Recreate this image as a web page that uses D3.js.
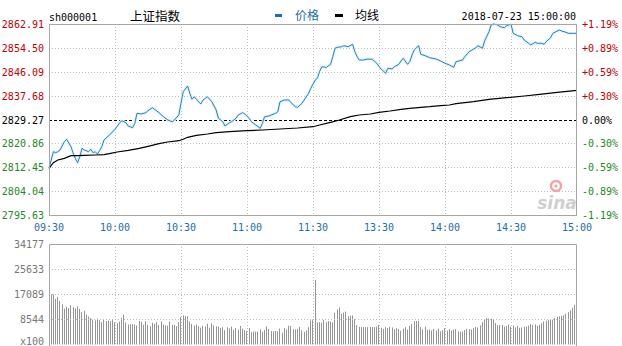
<!DOCTYPE html>
<html><head><meta charset="utf-8">
<script src="https://cdn.jsdelivr.net/npm/d3@7"></script>
<style>body{margin:0;background:#fff}svg{display:block}</style></head>
<body><svg id="c" width="622" height="346"></svg>
<script>
const priceTicks = [2862.91, 2854.50, 2846.09, 2837.68, 2829.27, 2820.86, 2812.45, 2804.04, 2795.63];
const pctTicks = ["+1.19%", "+0.89%", "+0.59%", "+0.30%", "0.00%", "-0.30%", "-0.59%", "-0.89%", "-1.19%"];
const prevClose = 2829.27;
const timeLabels = ["09:30", "10:00", "10:30", "11:00", "11:30", "13:30", "14:00", "14:30", "15:00"];
const timeLabelMinutes = [0, 30, 60, 90, 120, 150, 180, 210, 240];
const volTicks = [34177, 25633, 17089, 8544];

const priceMinutes = [0,2,3,4,5,7,8,10,11,12,13,14,15,16,18,19,20,21,22,23,24,25,28,30,32,33,35,36,38,39,40,42,44,45,47,48,50,52,54,56,57,59,60,61,63,64,65,66,67,69,70,72,74,76,77,79,80,82,83,85,86,88,89,91,92,94,96,97,98,100,101,103,104,105,107,109,110,112,113,115,116,118,119,121,122,123,124,126,128,129,130,131,133,134,136,138,139,140,141,143,145,147,149,150,151,152,153,154,156,157,159,160,161,163,164,165,166,168,169,171,173,176,178,180,182,184,185,188,189,191,194,195,197,198,200,201,202,204,205,207,208,210,211,213,215,216,218,219,221,222,224,225,226,228,229,232,233,235,236,238,240];
const priceValues = [2812.08,2817.93,2817.58,2817.93,2818.53,2821.45,2822.30,2819.69,2817.36,2815.50,2814.05,2816.17,2819.12,2818.53,2817.93,2818.77,2817.58,2817.93,2817.12,2818.28,2819.69,2822.05,2824.16,2825.82,2827.93,2828.85,2828.14,2826.98,2826.38,2827.93,2831.45,2831.21,2831.67,2832.37,2833.43,2832.86,2831.67,2830.26,2829.09,2828.49,2829.09,2830.86,2834.98,2839.06,2841.07,2838.50,2836.39,2837.30,2836.39,2834.73,2836.14,2837.30,2835.54,2832.62,2829.69,2828.49,2826.98,2828.14,2828.49,2829.69,2830.86,2831.67,2831.21,2829.69,2828.49,2827.33,2826.17,2827.93,2830.26,2830.50,2830.86,2831.45,2832.02,2835.54,2836.14,2836.14,2835.19,2833.78,2833.57,2834.98,2836.14,2838.50,2840.26,2843.18,2843.78,2846.20,2847.87,2847.60,2848.71,2851.39,2854.35,2854.70,2854.91,2855.27,2854.91,2855.76,2853.20,2851.50,2850.23,2850.23,2850.58,2850.46,2849.07,2848.00,2847.00,2846.35,2845.54,2847.31,2847.06,2847.87,2848.71,2849.88,2850.83,2848.71,2849.63,2851.99,2853.75,2855.27,2852.24,2851.74,2851.04,2850.58,2849.88,2849.07,2848.47,2847.66,2849.63,2850.23,2851.39,2853.15,2854.56,2855.27,2854.35,2856.92,2860.20,2862.56,2862.91,2862.56,2861.96,2861.61,2862.31,2862.80,2859.63,2858.79,2858.44,2857.27,2856.11,2855.51,2856.46,2856.11,2856.11,2855.76,2856.68,2858.08,2859.63,2860.80,2860.44,2859.99,2859.63,2859.63,2859.63];

const avgMinutes = [0,2,4,7,10,13,16,21,25,28,31,36,41,45,50,54,59,61,63,67,72,76,82,90,97,105,113,120,123,128,132,137,141,146,150,155,160,164,169,173,178,182,185,193,200,208,216,223,231,240];
const avgValues = [2812.08,2814.05,2815.00,2815.60,2816.52,2816.52,2816.66,2816.77,2816.87,2817.36,2817.82,2818.42,2819.12,2819.83,2820.75,2821.34,2821.80,2822.30,2823.00,2823.70,2824.16,2824.62,2824.97,2825.33,2825.57,2825.92,2826.28,2826.73,2827.33,2828.28,2829.09,2830.26,2830.86,2831.21,2831.81,2832.26,2832.86,2833.22,2833.57,2833.78,2834.13,2834.38,2834.84,2835.54,2836.39,2836.95,2837.55,2838.15,2838.85,2839.56];

const volumes = [
17100,17000,15500,16200,14800,13600,12200,12800,12400,13400,
12700,12300,13000,12100,11000,11500,10200,9500,9000,8400,
8200,8800,8300,7600,8500,8000,8100,7900,8300,7600,
7300,7800,9100,10100,7500,6800,6900,6900,6800,6500,
8000,7700,6700,7900,6700,6200,7400,7000,7600,6600,
7800,6800,6500,6400,7800,6600,6600,6200,7600,9300,
9900,9600,9600,7800,7000,6400,6800,6200,5700,6300,
6100,7100,5700,7200,6500,6200,6100,5600,5900,4900,
5800,5500,6100,5000,5600,5100,6300,5400,5000,4500,
5600,4200,4400,4400,4400,5100,4200,4900,6200,5300,
4600,4500,4600,4500,5400,4000,5600,5100,6400,6300,
5200,5100,5200,6000,4800,4300,4800,5900,8200,8500,
21900,7500,7600,7400,8400,7600,8000,7800,7500,10800,
11900,12600,10400,10900,11200,9600,9800,9900,8600,6600,
6000,5900,6000,5900,5900,6000,5900,5900,6100,6600,
5700,5300,5900,5600,6000,5800,5200,5600,5300,4700,
5400,5900,5100,6300,7000,7900,8000,8100,5900,5100,
6100,5000,5100,4800,5300,4800,5400,4500,4900,5600,
4700,5200,4800,5100,5300,4500,4300,4400,4900,5300,
5200,5100,5600,6000,5800,6500,7600,8600,9000,8800,
8700,8400,7300,6500,6600,6600,6100,6300,6800,6000,
6500,5800,6300,5700,5800,6000,6100,6400,6900,6600,
6800,6400,6700,7200,7800,8100,8300,8600,8400,9000,
9400,9600,9700,9900,10500,11000,11600,12500,13500,15900];

const svg = d3.select("#c");
const L = 49, R = 577, T = 24, B = 215;
const VT = 244, VB = 344.5;
const mono = "'DejaVu Sans Mono', monospace";
const cjk = "'Noto Sans CJK SC', sans-serif";
const red = "#c40000", green = "#1f8a1f", blue = "#1c6fa6";

const x = d3.scaleLinear().domain([0, 240]).range([L, R]);
const y = d3.scaleLinear().domain([priceTicks[priceTicks.length-1], priceTicks[0]]).range([B, T]);
const yv = d3.scaleLinear().domain([0, volTicks[0]]).range([VB, VT]);

// price grid
const g = svg.append("g");
g.selectAll(".hg").data(priceTicks.filter((d,i)=>i>0 && i<priceTicks.length-1 && d!==prevClose)).enter()
  .append("line").attr("x1", L).attr("x2", R).attr("y1", d=>Math.round(y(d))+0.5).attr("y2", d=>Math.round(y(d))+0.5)
  .attr("stroke", "#bdbdbd").attr("stroke-dasharray", "1,2");
g.selectAll(".vg").data(timeLabelMinutes.slice(1, -1)).enter()
  .append("line").attr("x1", d=>Math.round(x(d))+0.5).attr("x2", d=>Math.round(x(d))+0.5).attr("y1", T).attr("y2", B)
  .attr("stroke", "#bdbdbd").attr("stroke-dasharray", "1,2");
g.append("line").attr("x1", L).attr("x2", R).attr("y1", Math.round(y(prevClose))+0.5).attr("y2", Math.round(y(prevClose))+0.5)
  .attr("stroke", "#000").attr("stroke-dasharray", "3,2");

// watermark
const wm = svg.append("g");
wm.append("circle").attr("cx", 556).attr("cy", 186).attr("r", 5).attr("fill", "none").attr("stroke", "#f0a4a4").attr("stroke-width", 2.5);
wm.append("circle").attr("cx", 556).attr("cy", 186).attr("r", 1.6).attr("fill", "#f0a4a4");
wm.append("text").attr("x", 557).attr("y", 209).attr("text-anchor", "middle").attr("font-family", "'DejaVu Sans', sans-serif")
  .attr("font-size", 17).attr("font-style", "italic").attr("font-weight", "bold").attr("fill", "#cfcfcf").text("sina");

// price lines
const pts = priceMinutes.map((m,i)=>[m, priceValues[i]]);
const line = d3.line().x(d=>x(d[0])).y(d=>y(d[1]));
svg.append("path").attr("d", line(pts)).attr("fill", "none").attr("stroke", "#dff5fd").attr("stroke-width", 3).attr("stroke-linejoin", "round");
svg.append("path").attr("d", line(pts)).attr("fill", "none").attr("stroke", "#2f7fae").attr("stroke-width", 1).attr("stroke-linejoin", "round");
const apts = avgMinutes.map((m,i)=>[m, avgValues[i]]);
svg.append("path").attr("d", line(apts)).attr("fill", "none").attr("stroke", "#000").attr("stroke-width", 1.2);

// price frame
svg.append("rect").attr("x", L+0.5).attr("y", T+0.5).attr("width", R-L-1).attr("height", B-T).attr("fill", "none").attr("stroke", "#a6a6a6");

// left & right labels
svg.selectAll(".pl").data(priceTicks).enter().append("text")
  .attr("x", 44).attr("y", d=>y(d)+4).attr("text-anchor", "end").attr("font-family", mono).attr("font-size", 10)
  .attr("fill", d=> d>prevClose ? red : (d<prevClose ? green : "#000")).text(d=>d.toFixed(2));
svg.selectAll(".pr").data(pctTicks).enter().append("text")
  .attr("x", 582).attr("y", (d,i)=>y(priceTicks[i])+4).attr("font-family", mono).attr("font-size", 10)
  .attr("fill", (d,i)=> priceTicks[i]>prevClose ? red : (priceTicks[i]<prevClose ? green : "#000")).text(d=>d);

// time labels
svg.selectAll(".tl").data(timeLabels).enter().append("text")
  .attr("x", (d,i)=>x(timeLabelMinutes[i])).attr("y", 231).attr("text-anchor", "middle").attr("font-family", mono)
  .attr("font-size", 10).attr("fill", blue).text(d=>d);

// header
svg.append("text").attr("x", 49).attr("y", 21).attr("font-family", mono).attr("font-size", 10).attr("fill", "#000").text("sh000001");
svg.append("text").attr("x", 130).attr("y", 21).attr("font-family", cjk).attr("font-size", 12.5).attr("fill", "#000").text("上证指数");
svg.append("rect").attr("x", 275).attr("y", 14).attr("width", 7).attr("height", 3).attr("fill", blue);
svg.append("text").attr("x", 295).attr("y", 20).attr("font-family", cjk).attr("font-size", 12).attr("fill", blue).text("价格");
svg.append("rect").attr("x", 335).attr("y", 14).attr("width", 8).attr("height", 3).attr("fill", "#000");
svg.append("text").attr("x", 355).attr("y", 20).attr("font-family", cjk).attr("font-size", 12).attr("fill", "#000").text("均线");
svg.append("text").attr("x", 576).attr("y", 20).attr("text-anchor", "end").attr("font-family", mono).attr("font-size", 10).attr("fill", "#000").text("2018-07-23 15:00:00");

// volume bars
svg.selectAll(".vb").data(volumes).enter().append("line")
  .attr("x1", (d,i)=>Math.round(x(i+1)-0.6)+0.5).attr("x2", (d,i)=>Math.round(x(i+1)-0.6)+0.5)
  .attr("y1", VB).attr("y2", d=>yv(d)).attr("stroke", "#959595").attr("stroke-width", 1);

// volume grid
svg.selectAll(".vhg").data(volTicks.slice(1)).enter()
  .append("line").attr("x1", L).attr("x2", R).attr("y1", d=>Math.round(yv(d))+0.5).attr("y2", d=>Math.round(yv(d))+0.5)
  .attr("stroke", "#bdbdbd").attr("stroke-dasharray", "1,2");
svg.selectAll(".vvg").data(timeLabelMinutes.slice(1, -1)).enter()
  .append("line").attr("x1", d=>Math.round(x(d))+0.5).attr("x2", d=>Math.round(x(d))+0.5).attr("y1", VT).attr("y2", VB)
  .attr("stroke", "#bdbdbd").attr("stroke-dasharray", "1,2");
svg.append("path").attr("d", `M${L+0.5},${VB+5}V${VT+0.5}H${R-0.5}V${VB+5}`).attr("fill", "none").attr("stroke", "#a6a6a6");

svg.selectAll(".vl").data(volTicks).enter().append("text")
  .attr("x", 44).attr("y", d=>yv(d)+4).attr("text-anchor", "end").attr("font-family", mono).attr("font-size", 10)
  .attr("fill", "#777").text(d=>d);
svg.append("text").attr("x", 44).attr("y", 345).attr("text-anchor", "end").attr("font-family", mono).attr("font-size", 10).attr("fill", "#777").text("x100");
</script></body></html>
